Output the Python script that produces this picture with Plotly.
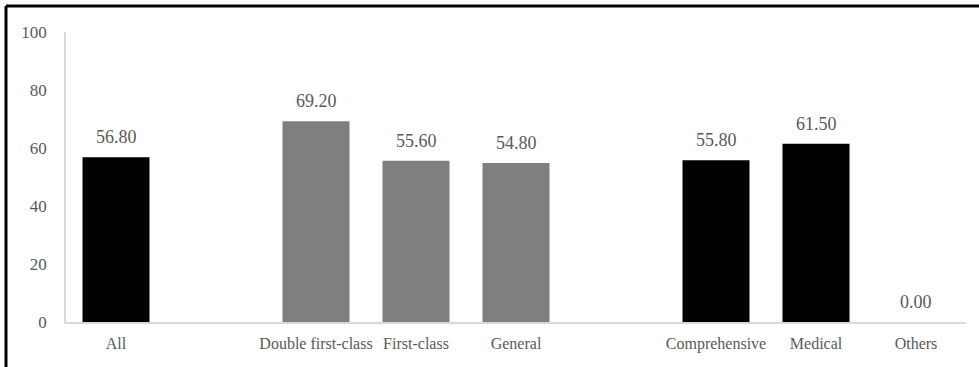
import plotly.graph_objects as go

categories = ["All", " ", "Double first-class", "First-class", "General", "  ",
              "Comprehensive", "Medical", "Others"]
values = [56.80, None, 69.20, 55.60, 54.80, None, 55.80, 61.50, 0.00]
bar_colors = ["#000000", "#000000", "#7f7f7f", "#7f7f7f", "#7f7f7f", "#000000",
              "#000000", "#000000", "#000000"]
y_ticks = [0, 20, 40, 60, 80, 100]

FONT = "Liberation Serif"
TXT = "#595959"

fig = go.Figure()
fig.add_trace(go.Bar(
    x=categories, y=values, marker=dict(color=bar_colors, line=dict(width=0)),
    width=0.67, hoverinfo="x+y",
))

for c, v in zip(categories, values):
    if v is None:
        continue
    fig.add_annotation(x=c, y=v, text=f"{v:.2f}", showarrow=False,
                       yanchor="bottom", yshift=8,
                       font=dict(family=FONT, size=18, color=TXT))

W, H = 979, 367
ml, mr, mt, mb = 66, 13, 32, 45
pw, ph = W - ml - mr, H - mt - mb

def px_x(p):
    return (p - ml) / pw

def px_y(p):
    return (H - mb - p) / ph

# frame lines (top and left) of the original image
fig.add_shape(type="line", xref="paper", yref="paper",
              x0=px_x(6), x1=px_x(W + 5), y0=px_y(6), y1=px_y(6),
              line=dict(color="black", width=3))
fig.add_shape(type="line", xref="paper", yref="paper",
              x0=px_x(6), x1=px_x(6), y0=px_y(6), y1=px_y(H + 5),
              line=dict(color="black", width=3))

fig.update_layout(
    width=W, height=H, margin=dict(l=ml, r=mr, t=mt, b=mb),
    paper_bgcolor="white", plot_bgcolor="white", showlegend=False,
    bargap=0.33,
    font=dict(family=FONT, color=TXT),
    xaxis=dict(type="category", categoryorder="array", categoryarray=categories,
               showline=True, linecolor="#d9d9d9", linewidth=1.5, showgrid=False,
               ticks="", tickfont=dict(family=FONT, size=16, color=TXT),
               ticklabelstandoff=6, fixedrange=True),
    yaxis=dict(range=[0, 100], tickvals=y_ticks, showline=True, linecolor="#d9d9d9",
               linewidth=1.5, showgrid=False, zeroline=False, ticks="",
               tickfont=dict(family=FONT, size=17, color=TXT),
               ticklabelstandoff=14, fixedrange=True),
)

fig.write_html("out.html")
